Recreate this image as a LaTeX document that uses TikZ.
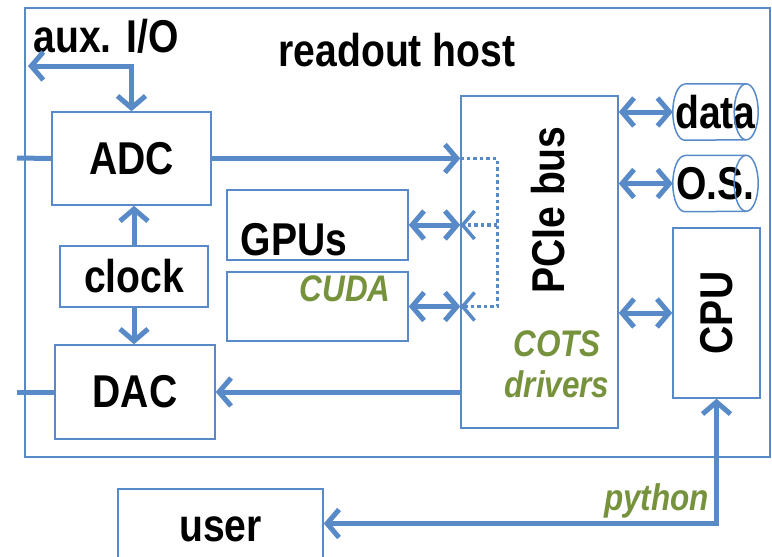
\documentclass[tikz,border=0pt]{standalone}
\usepackage{fontspec}
\setmainfont{Liberation Sans}[FakeStretch=0.85]
\usepackage{tikz}
\usetikzlibrary{arrows.meta}
\definecolor{linkblue}{RGB}{88,138,200}
\definecolor{olive}{RGB}{118,146,60}

\begin{document}
\begin{tikzpicture}[x=1pt, y=-1pt,
				>={Straight Barb[length=12pt,width=28pt]},
				box/.style={rectangle, draw=linkblue, line width=1.5pt, inner sep=0pt},
				disk/.style={rectangle, minimum width=85pt, minimum height=56pt, inner sep=0pt},
				rim/.style={draw=linkblue, line width=1.5pt},
				txt/.style={font=\fontsize{46}{48}\selectfont\bfseries},
				soft/.style={text=olive, font=\fontsize{37}{41}\selectfont\bfseries\itshape, inner sep=0pt},
				link/.style={draw=linkblue, line width=5pt},
				dotlink/.style={draw=linkblue, line width=3.5pt, dash pattern=on 3.5pt off 3pt},
				]
				\useasboundingbox (0,0) rectangle (772,557);
				\clip (0,0) rectangle (772,557);

				%Nodes
				\node[box, minimum width=745pt, minimum height=449pt]	(host)	at (397.5,232.5)	{};
				\node[txt]	(title)	at (397,50)	{readout host};
				\node[txt]	(aux)	at (106,36)	{aux. I/O};
				\node[box, txt, minimum width=159pt, minimum height=93pt]	(adc)	at (131.5,158.5)	{ADC};
				\node[box, txt, minimum width=148pt, minimum height=61pt]	(clock)	at (134,276.5)	{clock};
				\node[box, txt, minimum width=160pt, minimum height=94pt]	(dac)	at (135,392)	{DAC};
				\node[box, minimum width=181pt, minimum height=70pt, label={[txt, anchor=base west, xshift=11pt, yshift=5pt]south west:GPUs}]	(gpus)	at (317.5,225)	{};
				\node[box, minimum width=181pt, minimum height=69pt, label={[soft, anchor=base east, xshift=-18pt, yshift=-30pt]north east:CUDA}]	(cuda)	at (317.5,306.5)	{};
				\node[box, minimum width=157pt, minimum height=332pt]	(pcie)	at (539.5,262)	{};
				\node[txt, rotate=90, anchor=base]	(pcietext)	at (564,210)	{PCIe bus};
				\node[soft, align=center]	(cots)	at (557,364)	{COTS\\drivers};
				\node[disk, txt]	(data)	at (715.5,112)	{data};
				\node[disk, txt]	(os)	at (715.5,183.5)	{O.S.};
				\node[box, minimum width=87pt, minimum height=170pt, label={[txt, rotate=90]center:CPU}]	(cpu)	at (716.5,313)	{};
				\node[box, txt, minimum width=205pt, minimum height=81pt]	(user)	at (220.5,529.5)	{user};

				%Disk outlines
				\foreach \d in {data,os} {
					\draw[rim] ([xshift=12pt]\d.north west) -- ([xshift=-12pt]\d.north east)
						arc[start angle=90, end angle=-90, x radius=12pt, y radius=28pt]
						-- ([xshift=12pt]\d.south west)
						arc[start angle=270, end angle=90, x radius=12pt, y radius=28pt];
					\draw[rim] ([xshift=-12pt]\d.north east)
						arc[start angle=90, end angle=270, x radius=12pt, y radius=28pt];
				}

				\coordinate (auxend) at (28,66);
				\coordinate (adcin) at (17,158);
				\coordinate (dacout) at (17,392);
				\coordinate (dtop) at ([xshift=37pt]adc.east -| pcie.west);

				%Lines
				\draw[link, <->]	(auxend) -- (auxend -| adc.north) -- (adc.north);
				\draw[link]	(adcin) -- (adc.west);
				\draw[link]	(dacout) -- (dac.west);
				\draw[link, ->]	(clock.north) -- (clock.north |- adc.south);
				\draw[link, ->]	(clock.south) -- (clock.south |- dac.north);
				\draw[link, ->]	(adc.east) -- (adc.east -| pcie.west);
				\draw[link, ->]	(dac.east -| pcie.west) -- (dac.east);
				\draw[dotlink, ->]	(adc.east -| pcie.west) -- (dtop) -- (dtop |- cuda.east) -- (cuda.east -| pcie.west);
				\draw[dotlink, ->]	(dtop |- gpus.east) -- (gpus.east -| pcie.west);
				\draw[link, <->]	(gpus.east) -- (gpus.east -| pcie.west);
				\draw[link, <->]	(cuda.east) -- (cuda.east -| pcie.west);
				\draw[link, <->]	(data.west -| pcie.east) -- (data.west);
				\draw[link, <->]	(os.west -| pcie.east) -- (os.west);
				\draw[link, <->]	(cpu.west -| pcie.east) -- (cpu.west);
				\draw[link, <->]	(cpu.south) |- node[soft, anchor=base east, xshift=-5pt, yshift=13pt] (python) {python} ([yshift=6pt]user.east);
\end{tikzpicture}
\end{document}
